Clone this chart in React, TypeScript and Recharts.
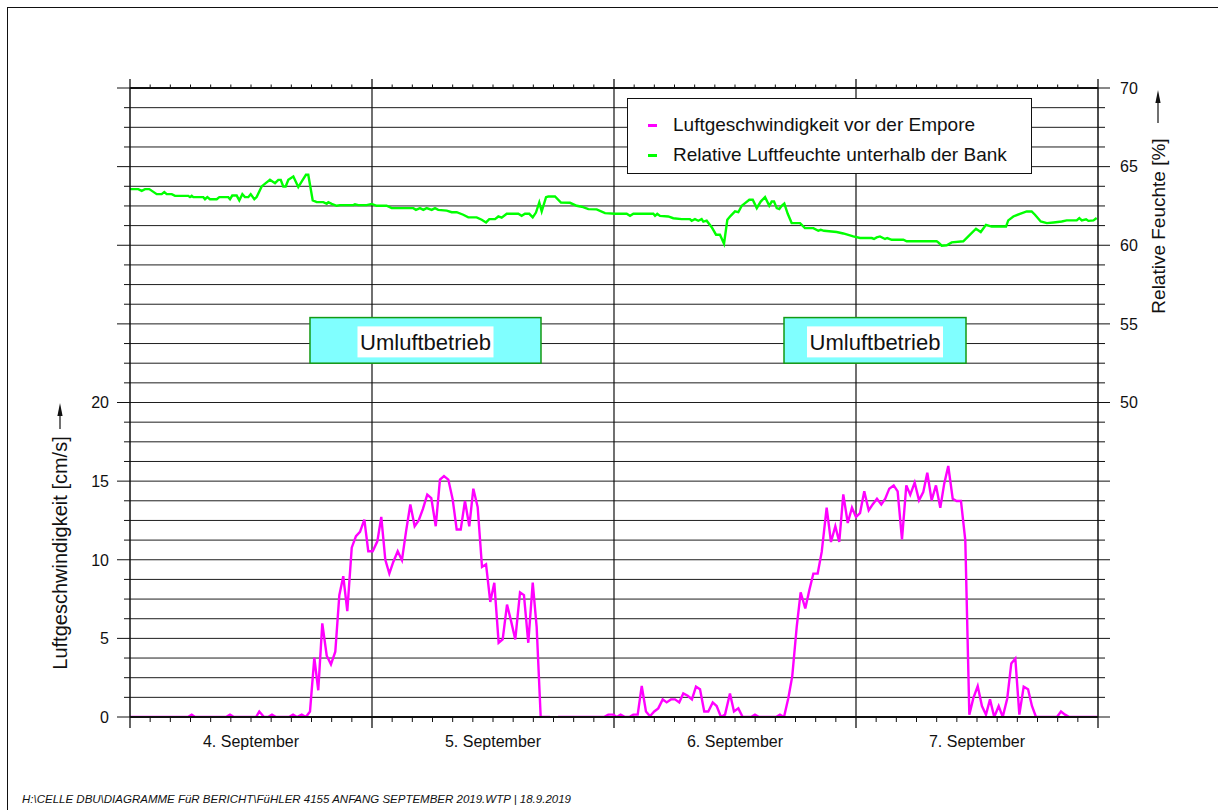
import React from "react";
import {
  ComposedChart,
  Line,
  XAxis,
  YAxis,
  CartesianGrid,
  ReferenceArea,
  Legend,
} from "recharts";

const FONT = '"Liberation Sans", Arial, sans-serif';
const INK = "#111";

// x values are hours since 4 Sep 00:00
const speedHours = [
  0, 5.75, 6.12, 6.45, 9.52, 9.92, 10.31, 12.5, 12.82, 13.29, 13.69, 14.08, 14.48, 15.77, 16.17, 16.56,
  17.03, 17.45, 17.85, 18.28, 18.67, 19.07, 19.51, 19.93, 20.36, 20.76, 21.15, 21.55, 21.99, 22.41,
  22.81, 23.24, 23.63, 24.07, 24.53, 24.92, 25.32, 25.72, 26.11, 26.55, 26.97, 27.37, 27.8, 28.23,
  28.63, 29.06, 29.48, 29.88, 30.32, 30.74, 31.14, 31.57, 32.0, 32.4, 32.8, 33.22, 33.65, 34.05,
  34.48, 34.91, 35.31, 35.73, 36.13, 36.56, 36.96, 37.39, 37.81, 38.21, 38.68, 39.07, 39.5, 39.94,
  40.33, 40.73, 41.65, 41.9, 42.45, 47.0, 47.43, 47.93, 48.27, 48.66, 49.09, 49.52, 49.91, 50.35,
  50.75, 51.17, 51.57, 51.99, 52.39, 52.83, 53.22, 53.65, 54.05, 54.47, 54.87, 55.31, 55.73, 56.13,
  56.53, 56.95, 57.35, 57.79, 58.18, 58.61, 59.01, 59.5, 59.9, 60.33, 60.76, 61.59, 61.98, 62.38,
  64.07, 64.46, 64.86, 65.28, 65.68, 66.12, 66.51, 66.97, 67.37, 67.77, 68.2, 68.6, 69.09, 69.52,
  69.95, 70.34, 70.74, 71.18, 71.6, 72.0, 72.4, 72.82, 73.26, 73.65, 74.08, 74.51, 74.9, 75.3,
  75.74, 76.13, 76.56, 76.99, 77.38, 77.82, 78.25, 78.67, 79.07, 79.5, 79.93, 80.36, 80.75, 81.15,
  81.59, 81.98, 82.41, 82.84, 83.24, 83.63, 84.07, 84.49, 84.89, 85.29, 85.71, 86.15, 86.55, 87.0,
  87.4, 87.8, 88.2, 88.63, 89.06, 89.45, 89.85, 91.93, 92.33, 92.73, 93.15, 95.9,
];
const speedValues: (number | null)[] = [
  0, 0, 0.15, 0, 0, 0.15, 0, 0, 0.35, 0, 0, 0.15, 0, 0, 0.15, 0,
  0.15, 0, 0.35, 3.77, 1.7, 5.95, 3.9, 3.35, 4.15, 7.75, 8.95, 6.73, 10.77, 11.5,
  11.77, 12.55, 10.54, 10.54, 11.17, 12.72, 10.0, 9.12, 9.86, 10.54, 9.97, 11.77, 13.52, 12.13,
  12.5, 13.25, 14.14, 13.92, 12.13, 15.1, 15.32, 15.1, 13.84, 11.92, 11.92, 13.74, 12.13, 14.52,
  13.35, 9.54, 9.71, 7.32, 8.53, 4.72, 4.93, 7.15, 6.05, 4.93, 7.92, 7.75, 4.72, 8.55,
  5.73, 0, 0, null, 0, 0, 0.15, 0.15, 0, 0.15, 0, 0, 0.15, 0.15,
  1.97, 0.35, 0.05, 0.35, 0.55, 1.12, 0.93, 1.12, 1.12, 0.93, 1.5, 1.35, 1.12, 1.93,
  1.76, 0.35, 0.35, 0.93, 0.7, 0, 0.15, 1.5, 0.35, 0.55, 0, 0, 0.15, 0,
  0, 0.15, 0, 1.18, 2.6, 5.73, 7.92, 6.9, 8.06, 9.12, 9.12, 10.5, 13.31, 11.13,
  12.13, 11.13, 14.16, 12.34, 13.31, 12.72, 12.97, 14.35, 13.14, 13.52, 13.88, 13.52, 13.88, 14.52,
  14.73, 14.35, 11.3, 14.73, 14.14, 14.9, 13.78, 14.3, 15.54, 13.78, 14.73, 13.31, 14.84, 15.96,
  13.88, 13.74, 13.74, 11.24, 0.15, 1.18, 1.97, 0.7, 0.15, 1.12, 0, 0.7, 0, 1.18,
  3.41, 3.72, 0.15, 1.93, 1.76, 0.7, 0, 0, 0.35, 0.15, 0, 0,
];

const humidityHours = [
  0, 0.82, 1.16, 1.49, 1.91, 2.65, 3.14, 3.4, 3.64, 4.14, 4.46, 5.78, 5.95, 6.12, 6.28, 7.27, 7.44,
  7.67, 7.93, 8.6, 8.86, 9.75, 9.92, 10.14, 10.58, 10.84, 11.14, 11.4, 11.73, 11.97, 12.33, 12.56,
  13.06, 13.46, 13.88, 14.38, 14.71, 14.95, 15.2, 15.44, 15.7, 16.2, 16.69, 17.13, 17.45, 17.68,
  18.12, 18.52, 19.17, 19.51, 19.67, 20.0, 20.5, 20.83, 22.15, 22.31, 22.64, 23.47, 23.97, 24.46,
  25.45, 25.95, 28.1, 28.36, 28.76, 29.09, 29.42, 29.92, 30.25, 30.57, 31.41, 31.9, 32.4, 33.05,
  33.55, 34.38, 34.88, 35.31, 35.63, 36.2, 36.53, 36.86, 37.36, 38.51, 38.84, 39.17, 39.6, 39.94,
  40.26, 40.59, 40.83, 41.26, 41.48, 42.15, 42.74, 43.64, 44.3, 44.8, 45.46, 46.28, 47.11, 48.1,
  49.26, 49.59, 49.92, 51.9, 52.07, 52.29, 52.56, 53.38, 53.88, 54.71, 55.53, 55.7, 56.03, 56.36,
  56.69, 56.86, 57.19, 57.69, 58.12, 58.51, 58.91, 59.24, 59.57, 60.0, 60.33, 60.67, 61.0, 61.42,
  61.76, 62.16, 62.55, 62.98, 63.4, 63.64, 63.87, 64.14, 64.39, 64.63, 64.89, 65.23, 65.62, 66.45,
  66.94, 67.77, 68.26, 68.5, 68.83, 70.08, 70.74, 71.73, 72.4, 73.56, 73.79, 74.05, 74.38, 74.88,
  75.1, 75.54, 76.69, 77.03, 80.0, 80.17, 80.5, 81.0, 81.49, 82.64, 83.31, 83.9, 84.37, 84.89,
  85.46, 86.28, 86.88, 87.1, 87.6, 88.26, 88.93, 89.42, 89.75, 90.32, 90.93, 91.59, 92.4, 92.9,
  93.89, 94.15, 94.39, 94.82, 95.05, 95.55, 95.87,
];
const humidityValues = [
  63.57, 63.57, 63.46, 63.57, 63.57, 63.25, 63.25, 63.38, 63.25, 63.25, 63.14, 63.14, 63.06, 63.14,
  63.06, 63.06, 62.93, 63.06, 62.93, 62.93, 63.06, 63.06, 62.93, 63.16, 63.16, 62.85, 63.25, 63.06,
  63.06, 63.25, 62.93, 63.06, 63.74, 63.95, 64.16, 63.95, 64.16, 64.16, 63.74, 63.74, 64.16, 64.37,
  63.7, 64.16, 64.48, 64.48, 62.85, 62.74, 62.74, 62.63, 62.74, 62.63, 62.51, 62.55, 62.55, 62.6,
  62.55, 62.55, 62.63, 62.51, 62.51, 62.36, 62.36, 62.25, 62.36, 62.25, 62.36, 62.25, 62.36, 62.25,
  62.2, 62.1, 62.1, 61.94, 61.77, 61.77, 61.62, 61.45, 61.66, 61.66, 61.83, 61.75, 62.0, 62.0,
  61.87, 62.0, 62.0, 61.77, 62.08, 62.72, 62.15, 63.06, 63.1, 63.1, 62.72, 62.7, 62.51, 62.45,
  62.3, 62.28, 62.04, 62.0, 62.0, 61.87, 62.0, 62.0, 61.87, 62.0, 61.87, 61.83, 61.72, 61.66,
  61.66, 61.56, 61.66, 61.56, 61.66, 61.5, 61.56, 61.15, 60.67, 60.67, 60.1, 61.62, 61.87, 62.15,
  62.1, 62.51, 62.68, 62.89, 62.89, 62.36, 62.78, 63.06, 62.51, 62.78, 62.78, 62.36, 62.3, 62.51,
  62.65, 62.0, 61.41, 61.41, 61.09, 61.09, 60.92, 60.98, 60.92, 60.84, 60.75, 60.56, 60.46, 60.46,
  60.4, 60.5, 60.56, 60.4, 60.46, 60.35, 60.35, 60.25, 60.25, 60.18, 59.97, 60.0, 60.18, 60.25,
  60.67, 61.05, 60.84, 61.3, 61.19, 61.19, 61.19, 61.58, 61.83, 62.0, 62.15, 62.15, 61.94, 61.51,
  61.41, 61.45, 61.51, 61.58, 61.58, 61.73, 61.58, 61.65, 61.55, 61.58, 61.73,
];

const dayLabels = ["4. September", "5. September", "6. September", "7. September"];
const dayCenters = [12, 36, 60, 84];
const dayBoundaries = [24, 48, 72];
const speedLabels = [0, 5, 10, 15, 20];
const humidityLabels = [50, 55, 60, 65, 70];
const umluftStart = [17.85, 64.86];
const umluftEnd = [40.76, 82.91];
const umluftBottom = 22.5;
const umluftTop = 25.4;
const umluftLabel = "Umluftbetrieb";
const footerText =
  "H:\\CELLE DBU\\DIAGRAMME FüR BERICHT\\FüHLER 4155 ANFANG SEPTEMBER 2019.WTP | 18.9.2019";

const speedData = speedHours.map((h, i) => ({ h, v: speedValues[i] }));
const humidityData = humidityHours.map((h, i) => ({ h, v: humidityValues[i] }));

// every 2 hours on x, grid every 1.25 units on y
const hourTicks = Array.from({ length: 49 }, (_, i) => i * 2);
const speedTicks = Array.from({ length: 33 }, (_, i) => i * 1.25);
const humidityTicks = Array.from({ length: 33 }, (_, i) => 30 + i * 1.25);

const isMajor = (v: number) => Math.abs(v / 5 - Math.round(v / 5)) < 1e-6;

function SpeedTick({ x, y, payload }: any) {
  const v = payload.value;
  const major = isMajor(v);
  return (
    <g>
      <line x1={x - (major ? 13 : 6)} x2={x} y1={y} y2={y} stroke={INK} strokeWidth={1} />
      {speedLabels.includes(v) && (
        <text x={x - 21} y={y} dy="0.36em" textAnchor="end" fontSize={16} fontFamily={FONT} fill={INK}>
          {v}
        </text>
      )}
    </g>
  );
}

function HumidityTick({ x, y, payload }: any) {
  const v = payload.value;
  const major = isMajor(v);
  return (
    <g>
      <line x1={x} x2={x + (major ? 12 : 7)} y1={y} y2={y} stroke={INK} strokeWidth={1} />
      {humidityLabels.includes(v) && (
        <text x={x + 22} y={y} dy="0.36em" textAnchor="start" fontSize={16} fontFamily={FONT} fill={INK}>
          {v}
        </text>
      )}
    </g>
  );
}

function BottomTick({ x, y, payload }: any) {
  const v = payload.value;
  const day = v % 24 === 0;
  const idx = dayCenters.indexOf(v);
  return (
    <g>
      <line x1={x} x2={x} y1={y} y2={y + (day ? 11 : 5)} stroke={INK} strokeWidth={day ? 1.3 : 1} />
      {idx >= 0 && (
        <text x={x} y={y + 30} textAnchor="middle" fontSize={16} fontFamily={FONT} fill={INK}>
          {dayLabels[idx]}
        </text>
      )}
    </g>
  );
}

function TopTick({ x, y, payload }: any) {
  const day = payload.value % 24 === 0;
  return <line x1={x} x2={x} y1={y} y2={y - (day ? 9 : 3.5)} stroke={INK} strokeWidth={day ? 1.3 : 1} />;
}

function Arrow({ x, tip, tail }: { x: number; tip: number; tail: number }) {
  return (
    <g>
      <line x1={x} x2={x} y1={tail} y2={tip + 8} stroke={INK} strokeWidth={1.2} />
      <path d={`M${x},${tip} L${x - 2.6},${tip + 13} L${x + 2.6},${tip + 13} Z`} fill={INK} />
    </g>
  );
}

function SpeedTitle({ viewBox }: any) {
  const cx = viewBox.x + 60;
  const cy = 553;
  return (
    <g>
      <text
        transform={`rotate(-90, ${cx}, ${cy})`}
        x={cx}
        y={cy}
        dy="0.35em"
        textAnchor="middle"
        fontSize={20}
        fontFamily={FONT}
        fill={INK}
      >
        Luftgeschwindigkeit [cm/s]
      </text>
      <Arrow x={cx} tip={403} tail={429} />
    </g>
  );
}

function HumidityTitle({ viewBox }: any) {
  const cx = viewBox.x + 60;
  const cy = 226;
  return (
    <g>
      <text
        transform={`rotate(-90, ${cx}, ${cy})`}
        x={cx}
        y={cy}
        dy="0.35em"
        textAnchor="middle"
        fontSize={19}
        fontFamily={FONT}
        fill={INK}
      >
        Relative Feuchte [%]
      </text>
      <Arrow x={cx} tip={90} tail={123} />
    </g>
  );
}

function UmluftBox({ x, y, width, height }: any) {
  const cx = x + width / 2;
  const cy = y + height / 2 + 1.5;
  return (
    <g>
      <rect x={x} y={y} width={width} height={height} fill="#80ffff" stroke="#149a14" strokeWidth={1.5} />
      <rect x={cx - 68} y={cy - 15.5} width={136} height={31} fill="#fff" />
      <text x={cx} y={cy} dy="0.36em" textAnchor="middle" fontSize={22} fontFamily={FONT} fill={INK}>
        {umluftLabel}
      </text>
    </g>
  );
}

function LegendBox({ payload }: any) {
  return (
    <div
      style={{
        width: 405,
        height: 76,
        boxSizing: "border-box",
        border: `1px solid ${INK}`,
        background: "#fff",
        padding: "11px 0 0 20px",
        fontFamily: FONT,
        fontSize: 19,
        color: INK,
        textAlign: "left",
      }}
    >
      {(payload || []).map((p: any) => (
        <div key={p.value} style={{ display: "flex", alignItems: "center", height: 30 }}>
          <span style={{ display: "inline-block", width: 9, height: 3, background: p.color, marginRight: 16 }} />
          <span>{p.value}</span>
        </div>
      ))}
    </div>
  );
}

export default function App() {
  return (
    <div
      style={{
        position: "absolute",
        left: 0,
        top: 0,
        width: 1218,
        height: 810,
        overflow: "hidden",
        background: "#fff",
      }}
    >
      <div
        style={{
          position: "absolute",
          left: 7,
          top: 7,
          width: 1300,
          height: 900,
          border: `1px solid ${INK}`,
        }}
      />
      <div style={{ position: "absolute", left: 0, top: 0 }}>
        <ComposedChart width={1218} height={810} margin={{ top: 68, right: 0, bottom: 0, left: 0 }}>
          <CartesianGrid xAxisId="b" yAxisId="v" vertical={false} stroke="#1e1e1e" strokeWidth={1} />
          <CartesianGrid
            xAxisId="b"
            yAxisId="v"
            horizontal={false}
            verticalValues={dayBoundaries}
            stroke={INK}
            strokeWidth={1.2}
          />
          <XAxis
            xAxisId="b"
            dataKey="h"
            type="number"
            domain={[0, 96]}
            allowDataOverflow
            ticks={hourTicks}
            interval={0}
            height={93}
            tickSize={0}
            tickMargin={0}
            tickLine={false}
            axisLine={{ stroke: INK, strokeWidth: 2 }}
            tick={(p: any) => <BottomTick {...p} />}
          />
          <XAxis
            xAxisId="t"
            orientation="top"
            dataKey="h"
            type="number"
            domain={[0, 96]}
            allowDataOverflow
            ticks={hourTicks}
            interval={0}
            height={20}
            tickSize={0}
            tickMargin={0}
            tickLine={false}
            axisLine={{ stroke: INK, strokeWidth: 2 }}
            tick={(p: any) => <TopTick {...p} />}
          />
          <YAxis
            yAxisId="v"
            orientation="left"
            type="number"
            domain={[0, 40]}
            allowDataOverflow
            ticks={speedTicks}
            interval={0}
            width={130}
            tickSize={0}
            tickMargin={0}
            tickLine={false}
            axisLine={{ stroke: INK, strokeWidth: 1.5 }}
            tick={(p: any) => <SpeedTick {...p} />}
            label={(p: any) => <SpeedTitle {...p} />}
          />
          <YAxis
            yAxisId="rh"
            orientation="right"
            type="number"
            domain={[30, 70]}
            allowDataOverflow
            ticks={humidityTicks}
            interval={0}
            width={120}
            tickSize={0}
            tickMargin={0}
            tickLine={false}
            axisLine={{ stroke: INK, strokeWidth: 1.5 }}
            tick={(p: any) => <HumidityTick {...p} />}
            label={(p: any) => <HumidityTitle {...p} />}
          />
          {umluftStart.map((s, i) => (
            <ReferenceArea
              key={s}
              xAxisId="b"
              yAxisId="v"
              x1={s}
              x2={umluftEnd[i]}
              y1={umluftBottom}
              y2={umluftTop}
              fillOpacity={1}
              shape={(p: any) => <UmluftBox {...p} />}
            />
          ))}
          <Legend
            layout="horizontal"
            verticalAlign="middle"
            align="center"
            wrapperStyle={{ left: 627, top: 98, width: 405, height: 76 }}
            content={(p: any) => <LegendBox payload={p.payload} />}
          />
          <Line
            xAxisId="b"
            yAxisId="v"
            data={speedData}
            dataKey="v"
            name="Luftgeschwindigkeit vor der Empore"
            type="linear"
            stroke="#ff00ff"
            strokeWidth={2.4}
            dot={false}
            activeDot={false}
            connectNulls={false}
            isAnimationActive={false}
          />
          <Line
            xAxisId="b"
            yAxisId="rh"
            data={humidityData}
            dataKey="v"
            name="Relative Luftfeuchte unterhalb der Bank"
            type="linear"
            stroke="#00ff00"
            strokeWidth={2.4}
            dot={false}
            activeDot={false}
            isAnimationActive={false}
          />
        </ComposedChart>
      </div>
      <div
        style={{
          position: "absolute",
          left: 22,
          top: 793,
          fontFamily: FONT,
          fontSize: 11.5,
          fontStyle: "italic",
          color: INK,
          whiteSpace: "nowrap",
        }}
      >
        {footerText}
      </div>
    </div>
  );
}
